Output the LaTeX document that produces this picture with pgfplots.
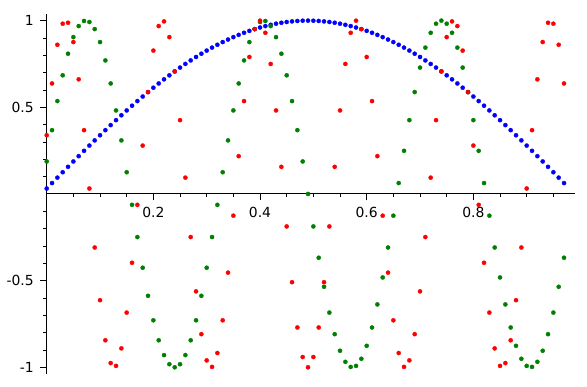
\documentclass[border=0pt]{standalone}
\usepackage{fontspec}
\setmainfont{DejaVu Sans}
\usepackage{pgfplots}
\pgfplotsset{compat=1.18}
\definecolor{sgreen}{rgb}{0,0.5,0}
\begin{document}
\begin{tikzpicture}
\useasboundingbox (0,0) rectangle (587bp,387bp);
\begin{axis}[
  at={(46.7bp,12.8bp)}, anchor=south west,
  scale only axis, width=528bp, height=360.5bp,
  xmin=0, xmax=0.99, ymin=-1.04, ymax=1.04,
  axis lines=middle, axis line style={-, black, line width=0.9bp},
  clip=false,
  tick align=outside,
  major tick length=6.5bp, minor tick length=3.3bp,
  every tick/.style={black, line width=0.8bp},
  xtick={0.2,0.4,0.6,0.8}, xticklabels={0.2,0.4,0.6,0.8},
  ytick={-1,-0.5,0.5,1}, yticklabels={-1,-0.5,0.5,1},
  minor xtick={0.05,0.1,0.15,0.25,0.3,0.35,0.45,0.5,0.55,0.65,0.7,0.75,0.85,0.9,0.95},
  minor ytick={-0.9,-0.8,-0.7,-0.6,-0.4,-0.3,-0.2,-0.1,0.1,0.2,0.3,0.4,0.6,0.7,0.8,0.9},
  ticklabel style={font=\fontsize{13.9bp}{16bp}\selectfont},
  xticklabel style={anchor=north, yshift=-3bp},
  yticklabel style={anchor=east, xshift=-3bp},
]
\addplot[blue, only marks, mark=*, mark size=2.1bp, mark options={solid, line width=0.3bp, draw=blue, fill=blue}] coordinates {
(0,0.0314) (0.01,0.0628) (0.02,0.0941) (0.03,0.1253) (0.04,0.1564) (0.05,0.1874) (0.06,0.2181) (0.07,0.2487) (0.08,0.2790) (0.09,0.3090)
(0.10,0.3387) (0.11,0.3681) (0.12,0.3971) (0.13,0.4258) (0.14,0.4540) (0.15,0.4818) (0.16,0.5090) (0.17,0.5358) (0.18,0.5621) (0.19,0.5878)
(0.20,0.6129) (0.21,0.6374) (0.22,0.6613) (0.23,0.6845) (0.24,0.7071) (0.25,0.7290) (0.26,0.7501) (0.27,0.7705) (0.28,0.7902) (0.29,0.8090)
(0.30,0.8271) (0.31,0.8443) (0.32,0.8607) (0.33,0.8763) (0.34,0.8910) (0.35,0.9048) (0.36,0.9178) (0.37,0.9298) (0.38,0.9409) (0.39,0.9511)
(0.40,0.9603) (0.41,0.9686) (0.42,0.9759) (0.43,0.9823) (0.44,0.9877) (0.45,0.9921) (0.46,0.9956) (0.47,0.9980) (0.48,0.9995) (0.49,1)
(0.50,0.9995) (0.51,0.9980) (0.52,0.9956) (0.53,0.9921) (0.54,0.9877) (0.55,0.9823) (0.56,0.9759) (0.57,0.9686) (0.58,0.9603) (0.59,0.9511)
(0.60,0.9409) (0.61,0.9298) (0.62,0.9178) (0.63,0.9048) (0.64,0.8910) (0.65,0.8763) (0.66,0.8607) (0.67,0.8443) (0.68,0.8271) (0.69,0.8090)
(0.70,0.7902) (0.71,0.7705) (0.72,0.7501) (0.73,0.7290) (0.74,0.7071) (0.75,0.6845) (0.76,0.6613) (0.77,0.6374) (0.78,0.6129) (0.79,0.5878)
(0.80,0.5621) (0.81,0.5358) (0.82,0.5090) (0.83,0.4818) (0.84,0.4540) (0.85,0.4258) (0.86,0.3971) (0.87,0.3681) (0.88,0.3387) (0.89,0.3090)
(0.90,0.2790) (0.91,0.2487) (0.92,0.2181) (0.93,0.1874) (0.94,0.1564) (0.95,0.1253) (0.96,0.0941) (0.97,0.0628)
};
\addplot[sgreen, only marks, mark=*, mark size=2.1bp, mark options={solid, line width=0.3bp, draw=sgreen, fill=sgreen}] coordinates {
(0,0.1874) (0.01,0.3681) (0.02,0.5358) (0.03,0.6845) (0.04,0.8090) (0.05,0.9048) (0.06,0.9686) (0.07,0.9980) (0.08,0.9921) (0.09,0.9511)
(0.10,0.8763) (0.11,0.7705) (0.12,0.6374) (0.13,0.4818) (0.14,0.3090) (0.15,0.1253) (0.16,-0.0628) (0.17,-0.2487) (0.18,-0.4258) (0.19,-0.5878)
(0.20,-0.7290) (0.21,-0.8443) (0.22,-0.9298) (0.23,-0.9823) (0.24,-1) (0.25,-0.9823) (0.26,-0.9298) (0.27,-0.8443) (0.28,-0.7290) (0.29,-0.5878)
(0.30,-0.4258) (0.31,-0.2487) (0.32,-0.0628) (0.33,0.1253) (0.34,0.3090) (0.35,0.4818) (0.36,0.6374) (0.37,0.7705) (0.38,0.8763) (0.39,0.9511)
(0.40,0.9921) (0.41,0.9980) (0.42,0.9686) (0.43,0.9048) (0.44,0.8090) (0.45,0.6845) (0.46,0.5358) (0.47,0.3681) (0.48,0.1874) (0.49,0)
(0.50,-0.1874) (0.51,-0.3681) (0.52,-0.5358) (0.53,-0.6845) (0.54,-0.8090) (0.55,-0.9048) (0.56,-0.9686) (0.57,-0.9980) (0.58,-0.9921) (0.59,-0.9511)
(0.60,-0.8763) (0.61,-0.7705) (0.62,-0.6374) (0.63,-0.4818) (0.64,-0.3090) (0.65,-0.1253) (0.66,0.0628) (0.67,0.2487) (0.68,0.4258) (0.69,0.5878)
(0.70,0.7290) (0.71,0.8443) (0.72,0.9298) (0.73,0.9823) (0.74,1) (0.75,0.9823) (0.76,0.9298) (0.77,0.8443) (0.78,0.7290) (0.79,0.5878)
(0.80,0.4258) (0.81,0.2487) (0.82,0.0628) (0.83,-0.1253) (0.84,-0.3090) (0.85,-0.4818) (0.86,-0.6374) (0.87,-0.7705) (0.88,-0.8763) (0.89,-0.9511)
(0.90,-0.9921) (0.91,-0.9980) (0.92,-0.9686) (0.93,-0.9048) (0.94,-0.8090) (0.95,-0.6845) (0.96,-0.5358) (0.97,-0.3681)
};
\addplot[red, only marks, mark=*, mark size=2.1bp, mark options={solid, line width=0.3bp, draw=red, fill=red}] coordinates {
(0,0.3387) (0.01,0.6374) (0.02,0.8607) (0.03,0.9823) (0.04,0.9877) (0.05,0.8763) (0.06,0.6613) (0.07,0.3681) (0.08,0.0314) (0.09,-0.3090)
(0.10,-0.6129) (0.11,-0.8443) (0.12,-0.9759) (0.13,-0.9921) (0.14,-0.8910) (0.15,-0.6845) (0.16,-0.3971) (0.17,-0.0628) (0.18,0.2790) (0.19,0.5878)
(0.20,0.8271) (0.21,0.9686) (0.22,0.9956) (0.23,0.9048) (0.24,0.7071) (0.25,0.4258) (0.26,0.0941) (0.27,-0.2487) (0.28,-0.5621) (0.29,-0.8090)
(0.30,-0.9603) (0.31,-0.9980) (0.32,-0.9178) (0.33,-0.7290) (0.34,-0.4540) (0.35,-0.1253) (0.36,0.2181) (0.37,0.5358) (0.38,0.7902) (0.39,0.9511)
(0.40,0.9995) (0.41,0.9298) (0.42,0.7501) (0.43,0.4818) (0.44,0.1564) (0.45,-0.1874) (0.46,-0.5090) (0.47,-0.7705) (0.48,-0.9409) (0.49,-1)
(0.50,-0.9409) (0.51,-0.7705) (0.52,-0.5090) (0.53,-0.1874) (0.54,0.1564) (0.55,0.4818) (0.56,0.7501) (0.57,0.9298) (0.58,0.9995) (0.59,0.9511)
(0.60,0.7902) (0.61,0.5358) (0.62,0.2181) (0.63,-0.1253) (0.64,-0.4540) (0.65,-0.7290) (0.66,-0.9178) (0.67,-0.9980) (0.68,-0.9603) (0.69,-0.8090)
(0.70,-0.5621) (0.71,-0.2487) (0.72,0.0941) (0.73,0.4258) (0.74,0.7071) (0.75,0.9048) (0.76,0.9956) (0.77,0.9686) (0.78,0.8271) (0.79,0.5878)
(0.80,0.2790) (0.81,-0.0628) (0.82,-0.3971) (0.83,-0.6845) (0.84,-0.8910) (0.85,-0.9921) (0.86,-0.9759) (0.87,-0.8443) (0.88,-0.6129) (0.89,-0.3090)
(0.90,0.0314) (0.91,0.3681) (0.92,0.6613) (0.93,0.8763) (0.94,0.9877) (0.95,0.9823) (0.96,0.8607) (0.97,0.6374)
};
\end{axis}
\end{tikzpicture}
\end{document}
